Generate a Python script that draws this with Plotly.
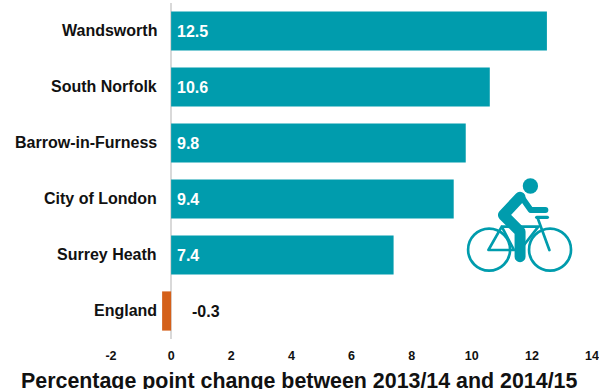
import base64
import plotly.graph_objects as go

areas = ["Wandsworth", "South Norfolk", "Barrow-in-Furness", "City of London", "Surrey Heath", "England"]
change = [12.5, 10.6, 9.8, 9.4, 7.4, -0.3]
bar_colours = ["#009CAD"] * 5 + ["#D4601A"]
x_ticks = [-2, 0, 2, 4, 6, 8, 10, 12, 14]
x_tick_labels = ["-2", "0", "2", "4", "6", "8", "10", "12", "14"]
x_title = "Percentage point change between 2013/14 and 2014/15"

TEAL = "#009CAD"
INK = "#111111"
FONT = "Liberation Sans, Arial, sans-serif"

# Cyclist pictogram, placed in the empty area right of the shorter bars
cyclist_svg = f"""<svg xmlns="http://www.w3.org/2000/svg" viewBox="0 0 477 390" width="477" height="390">
<g fill="none" stroke="{TEAL}" stroke-linecap="round" stroke-linejoin="round">
<circle cx="147" cy="269" r="63" stroke-width="8"/>
<circle cx="330" cy="269" r="63" stroke-width="8"/>
<path d="M145 270 L185 200 L222 270 Z M185 200 L295 200 L240 270 M292 172 L328 270" stroke-width="8"/>
<path d="M290 172 L322 172" stroke-width="10"/>
<path d="M240 112 L190 165 L240 215 L240 290" stroke-width="33"/>
<path d="M245 112 L272 150 L316 150" stroke-width="18"/>
</g>
<circle cx="271" cy="78" r="23" fill="{TEAL}"/>
</svg>"""
cyclist_uri = "data:image/svg+xml;base64," + base64.b64encode(cyclist_svg.encode()).decode()

fig = go.Figure(
    go.Bar(
        x=change,
        y=areas,
        orientation="h",
        width=0.7,
        marker=dict(color=bar_colours, line=dict(width=0)),
        hoverinfo="skip",
    )
)

# Area names sit right beside the zero line rather than at the plot edge
for name in areas:
    fig.add_annotation(
        x=0, y=name, xref="x", yref="y", text=f"<b>{name}</b>", showarrow=False,
        xanchor="right", xshift=-12, yshift=1, font=dict(family=FONT, size=16, color=INK),
    )

# Value labels: white inside the positive bars, black beyond the negative one
for name, value in zip(areas, change):
    fig.add_annotation(
        x=0, y=name, xref="x", yref="y", text=f"<b>{value}</b>", showarrow=False,
        xanchor="left", xshift=4 if value > 0 else 19,
        font=dict(family=FONT, size=16, color="white" if value > 0 else INK),
    )

# Axis title runs wider than the plot area, so it is centred on the page
fig.add_annotation(
    x=(299.5 - 110.6) / 481.4, y=0, xref="paper", yref="paper", yanchor="top", yshift=-28,
    text=f"<b>{x_title}</b>", showarrow=False,
    font=dict(family=FONT, size=21.4, color=INK),
)

fig.add_layout_image(
    source=cyclist_uri, xref="paper", yref="paper", xanchor="left", yanchor="top",
    x=(440 - 110.6) / 481.4, y=1 - (160 - 3) / 336, sizex=159 / 481.4, sizey=130 / 336,
    sizing="stretch", layer="above",
)

fig.update_layout(
    width=599, height=389, autosize=False,
    margin=dict(l=110.6, r=7, t=3, b=50, pad=0),
    paper_bgcolor="white", plot_bgcolor="white",
    showlegend=False, bargap=0.3,
    xaxis=dict(
        range=[-2, 14], tickmode="array", tickvals=x_ticks, ticktext=x_tick_labels,
        showgrid=False, showline=False, ticks="",
        zeroline=True, zerolinecolor="#D9D9D9", zerolinewidth=1.5,
        tickfont=dict(family=FONT, size=12.5, color=INK, weight="bold"),
        ticklabelstandoff=7, automargin=False,
    ),
    yaxis=dict(
        type="category", categoryorder="array", categoryarray=areas[::-1],
        range=[-0.5, 5.5], showticklabels=False, showgrid=False, showline=False,
        ticks="", zeroline=False,
    ),
)

fig.write_html("out.html", config={"displayModeBar": False})
